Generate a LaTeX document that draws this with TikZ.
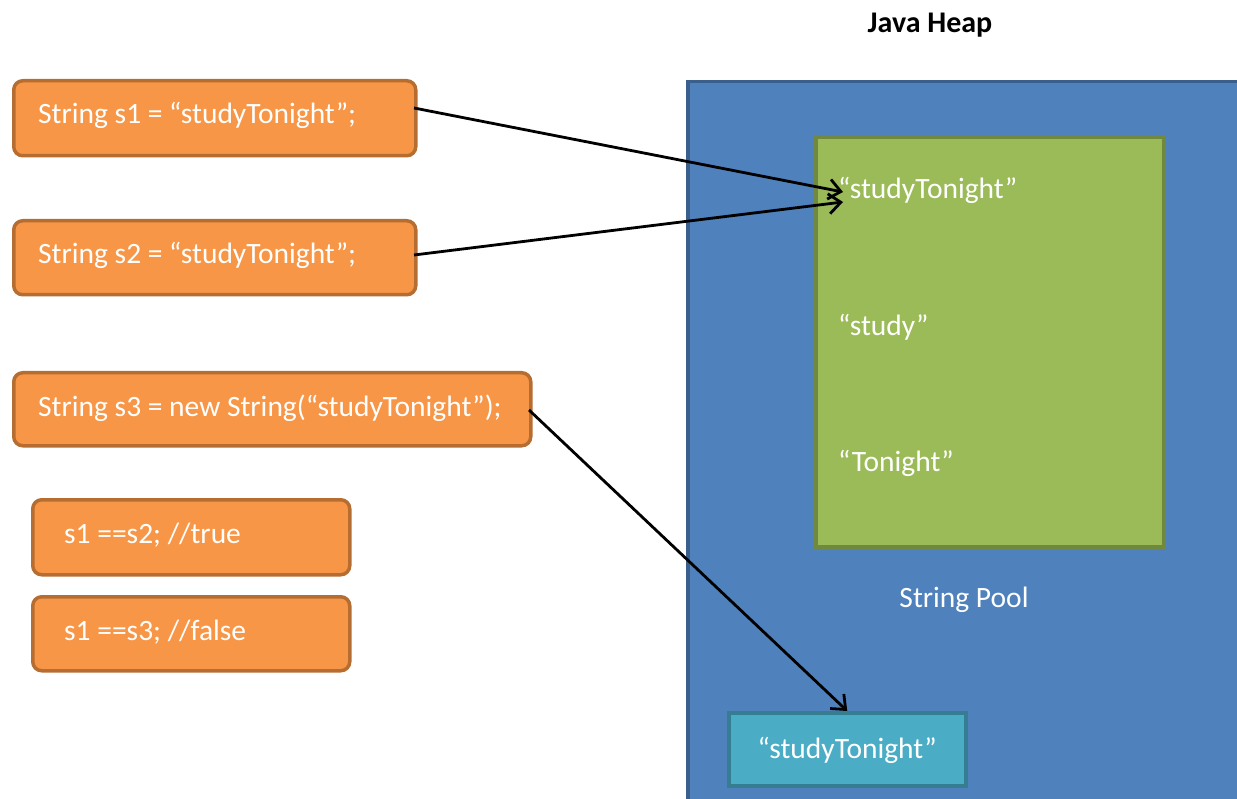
\documentclass[tikz,border=0pt]{standalone}
\usepackage{fontspec}
\setmainfont{Carlito}
\usetikzlibrary{arrows.meta}
\definecolor{heapfill}{HTML}{4F81BD}
\definecolor{heapline}{HTML}{3A5F8C}
\definecolor{poolfill}{HTML}{9BBB59}
\definecolor{poolline}{HTML}{71893F}
\definecolor{objfill}{HTML}{4BACC6}
\definecolor{objline}{HTML}{357D91}
\definecolor{codefill}{HTML}{F79646}
\definecolor{codeline}{HTML}{B66D31}
\tikzset{
  codebox/.style={draw=codeline, fill=codefill, line width=3.5pt, rounded corners=9pt, anchor=north west, inner sep=0pt},
  codetext/.style={anchor=west, text=white, inner sep=0pt, font=\fontsize{29.5}{34}\selectfont},
  wtext/.style={text=white, inner sep=0pt, font=\fontsize{29.5}{34}\selectfont},
  ref/.style={line width=2.8pt, -{Straight Barb[length=12pt, width=20pt, line width=2.8pt]}}
}
\begin{document}
\begin{tikzpicture}[x=1pt,y=-1pt]
\useasboundingbox (0,0) rectangle (1237,799);
\clip (0,0) rectangle (1237,799);
% heap
\node[draw=heapline, fill=heapfill, line width=3.5pt, anchor=north west, minimum width=580pt, minimum height=760pt, inner sep=0pt] (heap) at (686,80) {};
\node[font=\bfseries\fontsize{30}{34}\selectfont, inner sep=0pt] (heaplbl) at (930,25) {Java Heap};
% pool
\node[draw=poolline, fill=poolfill, line width=3.5pt, anchor=north west, minimum width=348pt, minimum height=409pt, inner sep=0pt] (pool) at (814,136) {};
\node[wtext, anchor=west] (p1) at (838,190) {“studyTonight”};
\node[wtext, anchor=west] (p2) at (838,327) {“study”};
\node[wtext, anchor=west] (p3) at (838,463) {“Tonight”};
\node[wtext] (poollbl) at (964,600) {String Pool};
% object on heap
\node[draw=objline, fill=objfill, line width=3.5pt, anchor=north west, minimum width=237pt, minimum height=73pt, inner sep=0pt] (obj) at (727,711) {};
\node[wtext] (objt) at ([yshift=-1pt]obj.center) {“studyTonight”};
% code boxes
\node[codebox, minimum width=402pt, minimum height=75pt] (s1) at (12,79) {};
\node[codetext] (s1t) at (38,115) {String s1 = “studyTonight”;};
\node[codebox, minimum width=402pt, minimum height=74pt] (s2) at (12,219) {};
\node[codetext] (s2t) at (38,255) {String s2 = “studyTonight”;};
\node[codebox, minimum width=517pt, minimum height=73pt] (s3) at (12,371) {};
\node[codetext] (s3t) at (38,408) {String s3 = new String(“studyTonight”);};
\node[codebox, minimum width=317pt, minimum height=75pt] (c1) at (31,498) {};
\node[codetext] (c1t) at (64,535) {s1 ==s2; //true};
\node[codebox, minimum width=317pt, minimum height=74pt] (c2) at (31,595) {};
\node[codetext] (c2t) at (64,632) {s1 ==s3; //false};
% references
\coordinate (s1out) at (414,108);
\coordinate (s2out) at (414,255);
\coordinate (s3out) at (529,410);
\coordinate (in1) at (843,192);
\coordinate (in2) at (843,202);
\draw[ref] (s1out) -- (in1);
\draw[ref] (s2out) -- (in2);
\draw[ref] (s3out) -- (obj.north);
\end{tikzpicture}
\end{document}
